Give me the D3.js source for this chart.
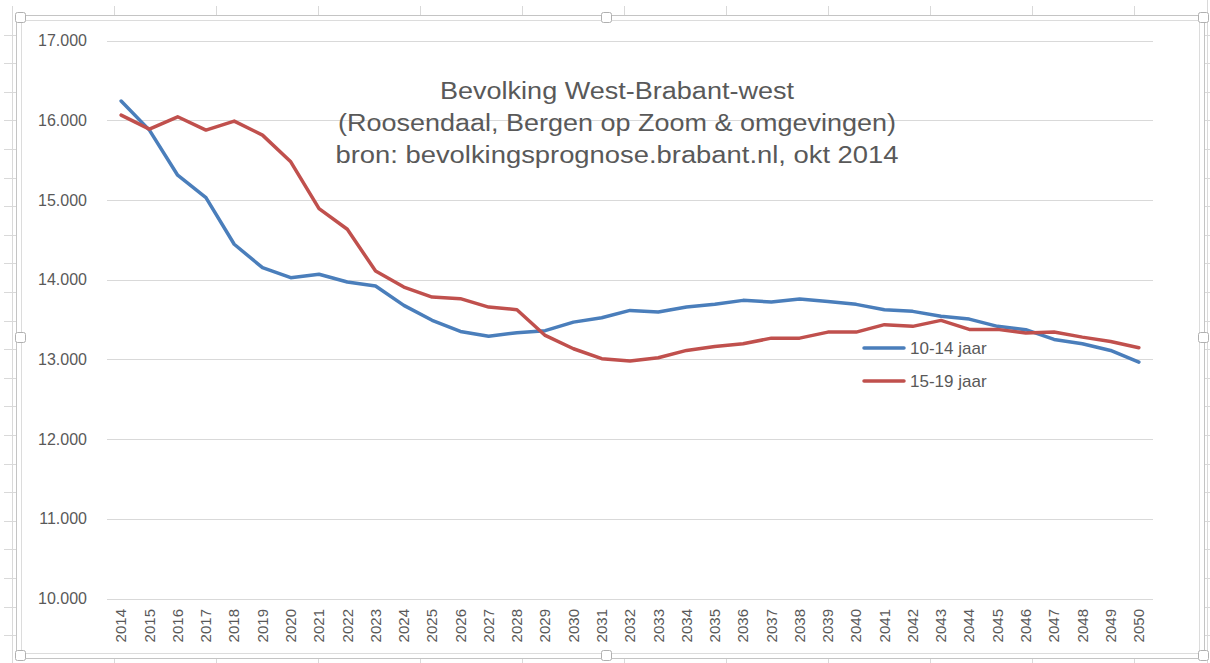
<!DOCTYPE html>
<html lang="nl">
<head>
<meta charset="utf-8">
<script src="https://d3js.org/d3.v7.min.js"></script>
<style type="text/css">
body {
	margin: 0;
	background-color: #ffffff;
	font-family: "Liberation Sans", Arial, sans-serif;
}
.grid line {
	stroke: #d9d9d9;
	stroke-width: 1;
	shape-rendering: crispEdges;
}
.axis text {
	fill: #595959;
}
</style>
</head>
<body>
<div id="my_chart"></div>
<script type="text/javascript">

	// Data: population per year, West-Brabant-west
	var years = d3.range(2014, 2051);
	var jaar1014 = [16240, 15876, 15310, 15030, 14444, 14150, 14025, 14067, 13970, 13920,
		13677, 13490, 13350, 13290, 13334, 13360, 13467, 13522, 13614, 13593,
		13656, 13690, 13740, 13719, 13756, 13727, 13690, 13623, 13602, 13540,
		13505, 13414, 13372, 13250, 13196, 13112, 12965];
	var jaar1519 = [16064, 15888, 16043, 15876, 15989, 15813, 15478, 14892, 14632, 14108,
		13907, 13781, 13761, 13656, 13623, 13300, 13133, 13008, 12978, 13020,
		13112, 13162, 13196, 13266, 13266, 13342, 13342, 13435, 13414, 13489,
		13376, 13376, 13330, 13342, 13279, 13225, 13146];
	var seriesNames = ["10-14 jaar", "15-19 jaar"];
	var seriesColors = ["#4a7ebb", "#c0504d"];
	var yTicks = [10000, 11000, 12000, 13000, 14000, 15000, 16000, 17000];
	var titleLines = ["Bevolking West-Brabant-west",
		"(Roosendaal, Bergen op Zoom & omgevingen)",
		"bron: bevolkingsprognose.brabant.nl, okt 2014"];
	var titleWidths = [354, 558, 563];

	var width = 1210;
	var height = 663;

	var svg = d3.select("#my_chart")
	  .append("svg")
	  .attr("width", width)
	  .attr("height", height);

	// spreadsheet grid behind the chart
	var sheet = svg.append("g").attr("class", "grid");
	sheet.selectAll("line.col")
	  .data(d3.range(0, 12))
	  .enter().append("line")
	  .attr("x1", function(d) { return 12.5 + d * 102; })
	  .attr("x2", function(d) { return 12.5 + d * 102; })
	  .attr("y1", 6).attr("y2", height);
	sheet.append("line")
	  .attr("x1", 1207.5).attr("x2", 1207.5).attr("y1", 0).attr("y2", height);
	sheet.selectAll("line.row")
	  .data(d3.range(1, 24))
	  .enter().append("line")
	  .attr("y1", function(d) { return 6.5 + d * 28.6; })
	  .attr("y2", function(d) { return 6.5 + d * 28.6; })
	  .attr("x1", 4).attr("x2", width);

	// chart frame (selected chart object)
	svg.append("rect")
	  .attr("x", 16.5).attr("y", 15.5)
	  .attr("width", 1188).attr("height", 643)
	  .style("fill", "#fff")
	  .style("stroke", "#c4c4c4");
	svg.append("rect")
	  .attr("x", 21.5).attr("y", 20.5)
	  .attr("width", 1178).attr("height", 633)
	  .style("fill", "#fff")
	  .style("stroke", "#dcdcdc");

	var handles = [[21, 18], [607, 18], [1204, 18], [1204, 338], [1204, 656], [607, 656], [21, 656], [21, 338]];
	svg.selectAll("rect.handle")
	  .data(handles)
	  .enter().append("rect")
	  .attr("class", "handle")
	  .attr("x", function(d) { return d[0] - 5.5; })
	  .attr("y", function(d) { return d[1] - 5.5; })
	  .attr("width", 10).attr("height", 10)
	  .attr("rx", 2)
	  .style("fill", "#fff")
	  .style("stroke", "#b0b0b0");

	// scales
	var x = d3.scalePoint()
	  .domain(years)
	  .range([107, 1153])
	  .padding(0.5);

	var y = d3.scaleLinear()
	  .domain([10000, 17000])
	  .range([598.5, 40.5]);

	var nl = d3.formatLocale({ decimal: ",", thousands: ".", grouping: [3], currency: ["€", ""] });

	// horizontal gridlines + y labels
	var yAxis = svg.append("g")
	  .attr("class", "axis")
	  .call(d3.axisLeft(y).tickValues(yTicks).tickFormat(nl.format(",.3r")).tickSize(0).tickPadding(0));
	yAxis.select(".domain").remove();
	yAxis.attr("transform", "translate(87,0)");
	yAxis.selectAll("text")
	  .style("font-size", "16px")
	  .style("font-family", "'Liberation Sans', Arial, sans-serif");

	svg.append("g")
	  .attr("class", "grid")
	  .selectAll("line")
	  .data(yTicks)
	  .enter().append("line")
	  .attr("x1", 107).attr("x2", 1153)
	  .attr("y1", function(d) { return Math.round(y(d)) + 0.5; })
	  .attr("y2", function(d) { return Math.round(y(d)) + 0.5; });

	// x labels (rotated)
	svg.append("g")
	  .attr("class", "axis")
	  .selectAll("text")
	  .data(years)
	  .enter().append("text")
	  .attr("transform", function(d) { return "translate(" + x(d) + ",609) rotate(-90)"; })
	  .attr("text-anchor", "end")
	  .attr("dy", "0.35em")
	  .style("font-size", "15px")
	  .text(function(d) { return d; });

	// lines
	var line = d3.line()
	  .x(function(d, i) { return x(years[i]); })
	  .y(function(d) { return y(d); });

	var series = [jaar1014, jaar1519];
	svg.selectAll("path.serie")
	  .data(series)
	  .enter().append("path")
	  .attr("class", "serie")
	  .attr("d", line)
	  .style("fill", "none")
	  .style("stroke", function(d, i) { return seriesColors[i]; })
	  .style("stroke-width", 3.5)
	  .style("stroke-linejoin", "round")
	  .style("stroke-linecap", "round");

	// title
	svg.append("g")
	  .selectAll("text")
	  .data(titleLines)
	  .enter().append("text")
	  .attr("x", 617)
	  .attr("y", function(d, i) { return 99 + i * 32; })
	  .attr("text-anchor", "middle")
	  .attr("textLength", function(d, i) { return titleWidths[i]; })
	  .attr("lengthAdjust", "spacingAndGlyphs")
	  .style("font-size", "23px")
	  .style("fill", "#595959")
	  .text(function(d) { return d; });

	// legend
	var legend = svg.append("g")
	  .selectAll("g")
	  .data(seriesNames)
	  .enter().append("g")
	  .attr("transform", function(d, i) { return "translate(864," + (348 + i * 33) + ")"; });
	legend.append("line")
	  .attr("x1", 0).attr("x2", 40)
	  .style("stroke", function(d, i) { return seriesColors[i]; })
	  .style("stroke-width", 3.5)
	  .style("stroke-linecap", "round");
	legend.append("text")
	  .attr("x", 46)
	  .attr("dy", "0.35em")
	  .style("font-size", "17px")
	  .style("fill", "#595959")
	  .text(function(d) { return d; });

</script>
</body>
</html>
